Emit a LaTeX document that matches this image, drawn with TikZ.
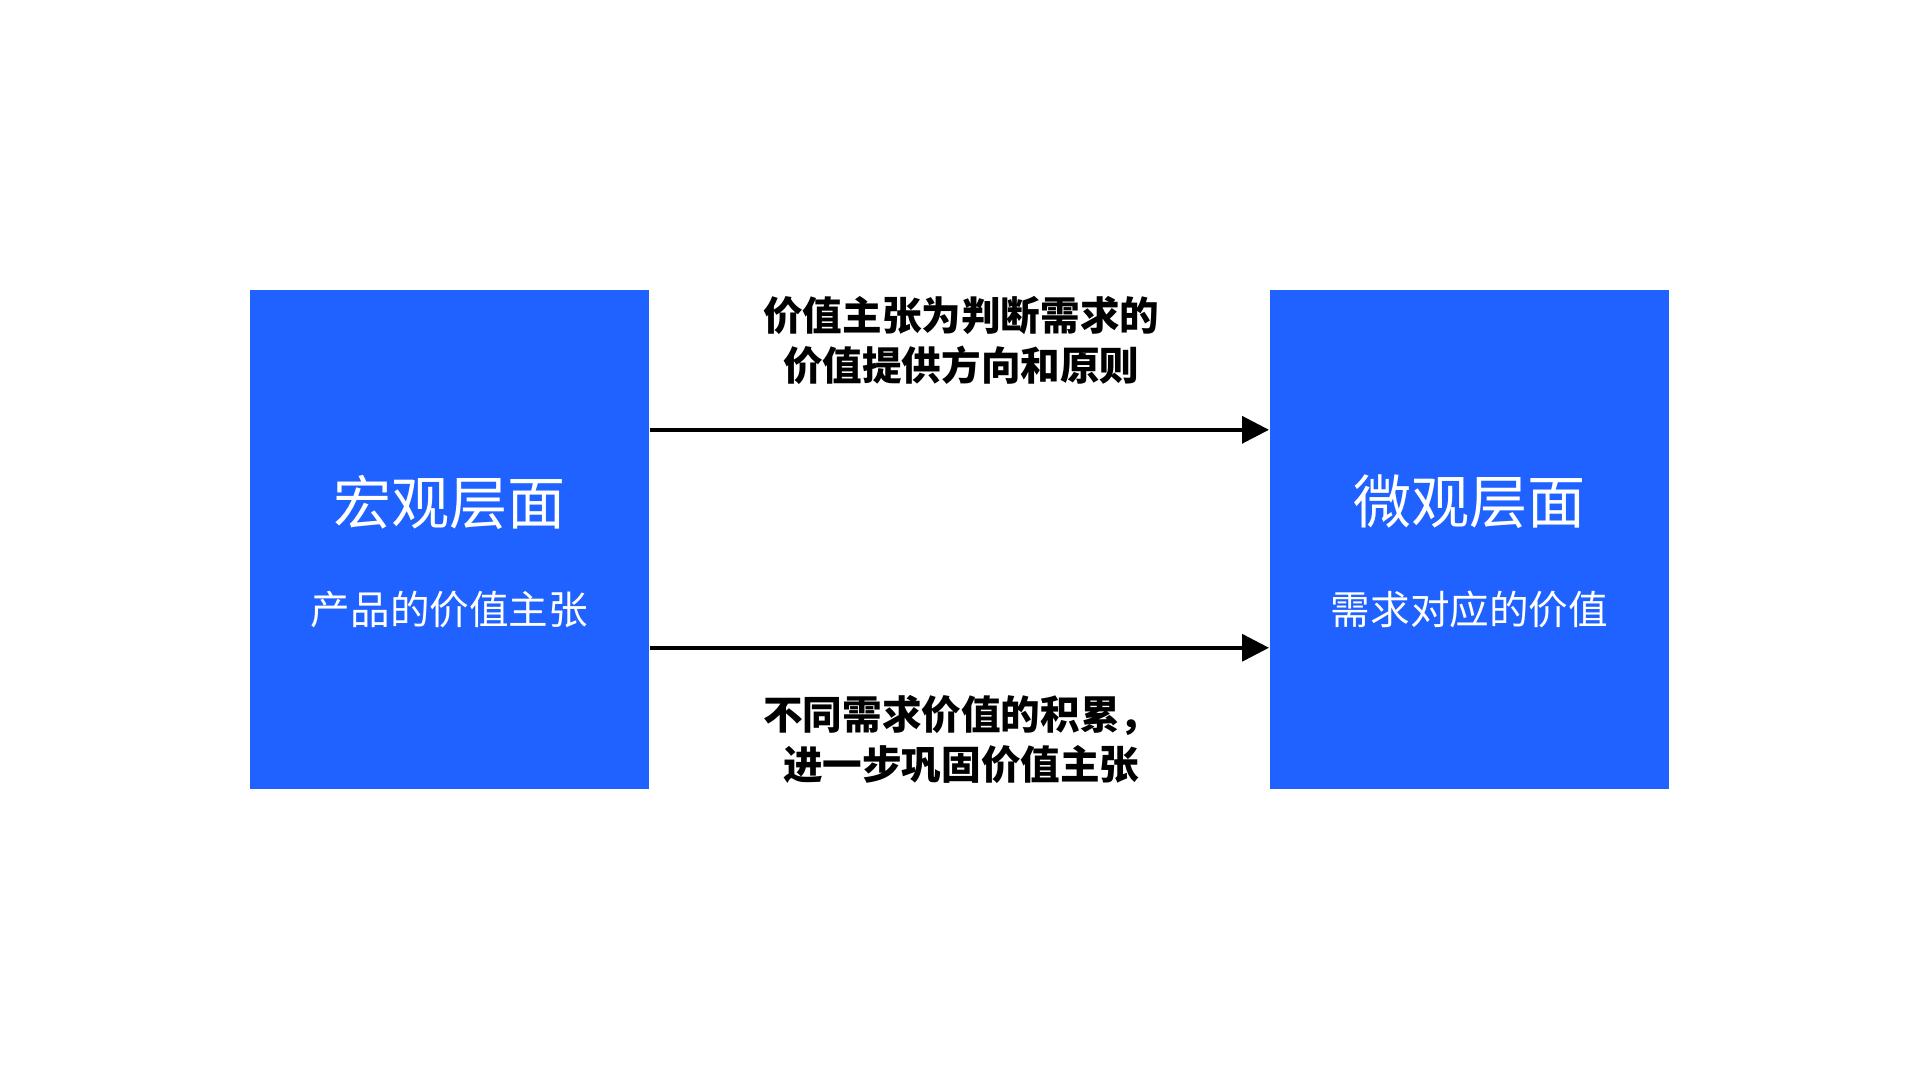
\documentclass[tikz,border=0pt]{standalone}
\usepackage{fontspec}
\newfontfamily\cjk{Noto Sans CJK SC}
\usetikzlibrary{arrows.meta}
\definecolor{boxblue}{HTML}{1F62FF}
\tikzset{
    layer/.style={fill=boxblue, minimum width=3.26cm, minimum height=4.07cm, inner sep=0pt},
    title/.style={text=white, font=\cjk\fontsize{13.5pt}{16pt}\selectfont},
    subtitle/.style={text=white, font=\cjk\fontsize{9.2pt}{11pt}\selectfont},
    note/.style={align=center, font=\cjk\bfseries\fontsize{9.2pt}{11.5pt}\selectfont},
    arr/.style={line width=0.85pt, -{Triangle[length=0.22cm, width=0.22cm]}},
}
\begin{document}
\begin{tikzpicture}
        \useasboundingbox (0,0) rectangle (15.68,8.82);
        % Ebenen
        \node[layer] (macro) at (3.67,4.415) {};
        \node[layer] (micro) at (12.00,4.415) {};
        % Beschriftungen der Ebenen
        \node[title] (macroT) at (3.67,4.72) {宏观层面};
        \node[subtitle] (macroS) at (3.67,3.84) {产品的价值主张};
        \node[title] (microT) at (12.00,4.72) {微观层面};
        \node[subtitle] (microS) at (12.00,3.84) {需求对应的价值};
        % Pfeile
        \coordinate (topL) at (macro.east |- 0,5.31);
        \coordinate (topR) at (micro.west |- 0,5.31);
        \coordinate (botL) at (macro.east |- 0,3.53);
        \coordinate (botR) at (micro.west |- 0,3.53);
        \draw[arr] (topL) -- (topR);
        \draw[arr] (botL) -- (botR);
        % Pfeilbeschriftungen
        \node[note] (topN) at (7.85,6.04) {价值主张为判断需求的\\价值提供方向和原则};
        \node[note] (botN) at (7.85,2.78) {不同需求价值的积累，\\进一步巩固价值主张};
\end{tikzpicture}
\end{document}
